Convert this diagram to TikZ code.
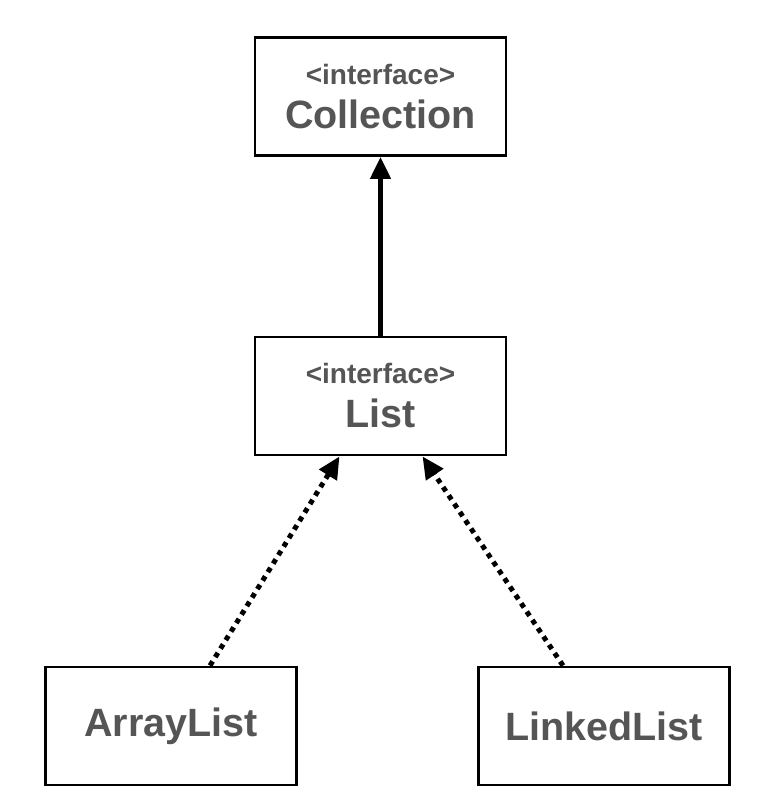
\documentclass[tikz,border=0pt]{standalone}
\usepackage{fontspec}
\setmainfont{Liberation Sans}
\usetikzlibrary{positioning,arrows.meta}
\definecolor{txtgray}{HTML}{555555}

\begin{document}
\begin{tikzpicture}[x=1pt, y=-1pt, >={Triangle[length=22pt,width=20pt]}]
\tikzset{
  cls/.style={rectangle, draw, line width=2.8pt, minimum width=251pt, minimum height=118pt,
    inner sep=0pt, align=center, text=txtgray, font=\bfseries\fontsize{39.5}{48}\selectfont},
  stereo/.style={font=\bfseries\fontsize{28}{48}\selectfont},
  inherit/.style={->, line width=4.5pt},
  realize/.style={->, line width=5pt, dash pattern=on 5pt off 5pt}
}
\useasboundingbox (0,0) rectangle (775,807);
\node[cls] (coll) at (380.5,96.5) {{\bfseries\fontsize{28}{34}\selectfont <interface>}\\[-4pt]Collection};
\node[cls] (list) at (380.5,396) {{\bfseries\fontsize{28}{34}\selectfont <interface>}\\[-4pt]List};
\node[cls] (alist) at (171,726) {ArrayList};
\node[cls] (llist) at (604,726) {LinkedList};
\draw[inherit] (list.north) -- (coll.south);
\draw[realize] ([xshift=39pt]alist.north) -- ([xshift=-41pt]list.south);
\draw[realize] ([xshift=-41pt]llist.north) -- ([xshift=42pt]list.south);
\end{tikzpicture}
\end{document}
